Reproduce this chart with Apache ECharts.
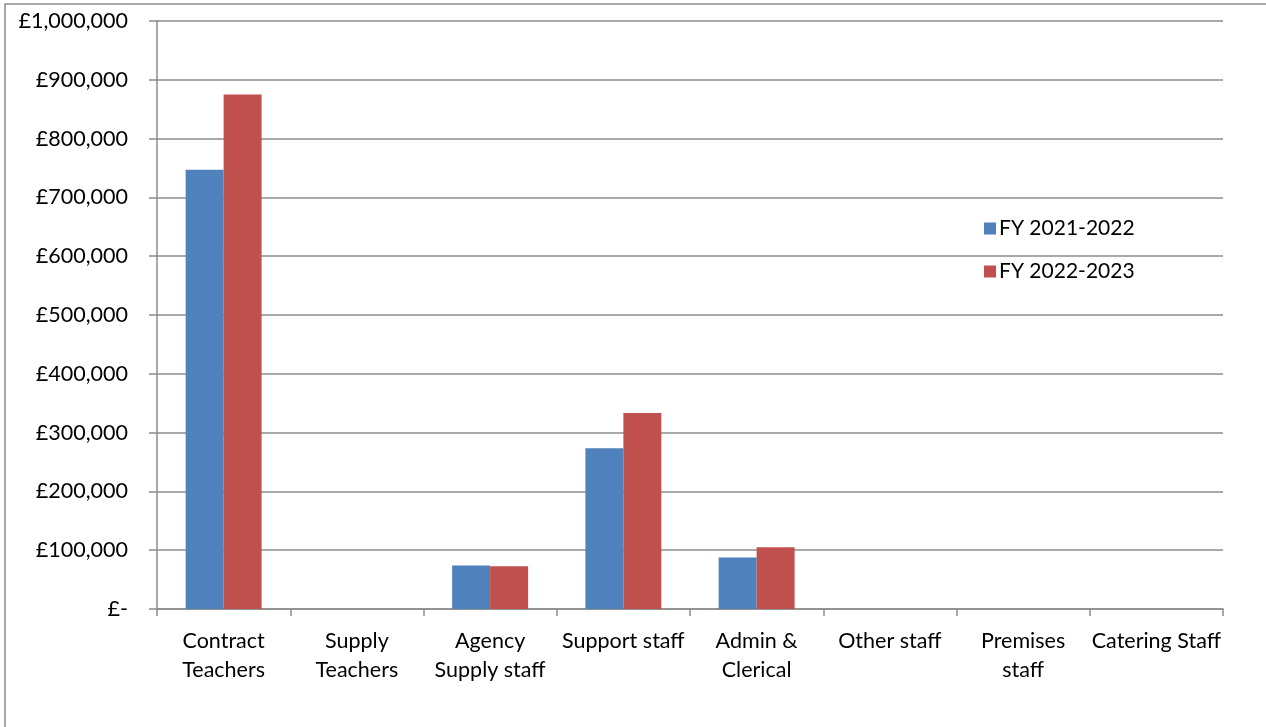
<!DOCTYPE html>
<html>
<head>
<meta charset="utf-8">
<script src="https://cdn.jsdelivr.net/npm/echarts@6/dist/echarts.min.js"></script>
<style>
  html, body { margin: 0; padding: 0; background: #fff; }
  #chart { width: 1266px; height: 727px; }
</style>
</head>
<body>
<div id="chart"></div>
<script>
// Staff cost categories
const categories = [
  'Contract\nTeachers', 'Supply\nTeachers', 'Agency\nSupply staff', 'Support staff',
  'Admin &\nClerical', 'Other staff', 'Premises\nstaff', 'Catering Staff'
];
// Spend per financial year (£)
const fy2122 = [747000, 0, 74000, 273500, 87500, 0, 0, 0];
const fy2223 = [875000, 0, 72500, 333500, 105000, 0, 0, 0];
const seriesNames = ['FY 2021-2022', 'FY 2022-2023'];
const yTicks = [0, 100000, 200000, 300000, 400000, 500000, 600000, 700000, 800000, 900000, 1000000];

const font = 'Lato, "Open Sans", sans-serif';
const axisGray = '#8c8c8c';

function money(v) {
  if (v === 0) return '£-';
  return '£' + v.toLocaleString('en-GB');
}

const chart = echarts.init(document.getElementById('chart'), null, { renderer: 'canvas' });
chart.setOption({
  backgroundColor: '#ffffff',
  animation: false,
  textStyle: { fontFamily: font },
  graphic: [{
    type: 'rect',
    shape: { x: 5, y: 4, width: 1400, height: 900 },
    style: { fill: 'none', stroke: axisGray, lineWidth: 1.5 },
    silent: true
  }],
  grid: { left: 157, right: 43, top: 21, bottom: 118, containLabel: false },
  legend: {
    orient: 'vertical',
    left: 979,
    top: 213,
    itemWidth: 12,
    itemHeight: 12,
    itemGap: 22,
    icon: 'rect',
    textStyle: { fontFamily: font, fontSize: 21, color: '#000', padding: [0, 0, 0, -2] },
    data: seriesNames
  },
  xAxis: {
    type: 'category',
    data: categories,
    axisLine: { lineStyle: { color: axisGray, width: 1.5 } },
    axisTick: { show: true, length: 7, alignWithLabel: false, lineStyle: { color: axisGray, width: 1.5 } },
    axisLabel: {
      interval: 0,
      margin: 18,
      fontFamily: font,
      fontSize: 21.5,
      color: '#000',
      lineHeight: 29
    }
  },
  yAxis: {
    type: 'value',
    min: yTicks[0],
    max: yTicks[yTicks.length - 1],
    interval: yTicks[1] - yTicks[0],
    axisLine: { show: true, lineStyle: { color: axisGray, width: 1.5 } },
    axisTick: { show: true, length: 8, lineStyle: { color: axisGray, width: 1.5 } },
    splitLine: { lineStyle: { color: axisGray, width: 1.5 } },
    axisLabel: {
      margin: 29,
      fontFamily: font,
      fontSize: 21.5,
      color: '#000',
      formatter: money
    }
  },
  series: [
    {
      name: seriesNames[0],
      type: 'bar',
      data: fy2122,
      barGap: '0%',
      barCategoryGap: '43%',
      itemStyle: { color: '#4F81BD' }
    },
    {
      name: seriesNames[1],
      type: 'bar',
      data: fy2223,
      barGap: '0%',
      barCategoryGap: '43%',
      itemStyle: { color: '#C0504D' }
    }
  ]
});
</script>
</body>
</html>
